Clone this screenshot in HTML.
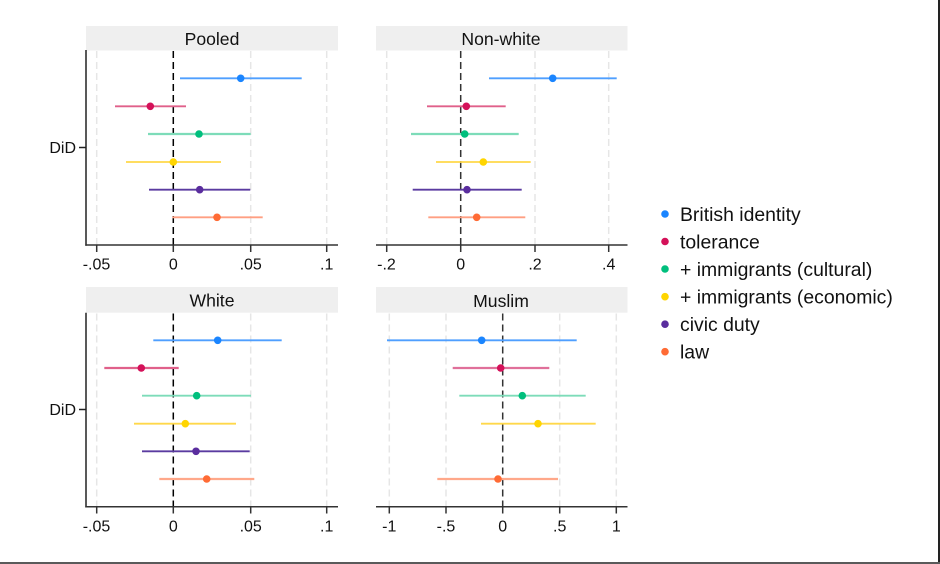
<!DOCTYPE html>
<html>
<head>
<meta charset="utf-8">
<style>
html,body{margin:0;padding:0;background:#fff;}
svg{display:block;}
text{font-family:"Liberation Sans",Arial,sans-serif;fill:#111;}
</style>
</head>
<body>
<svg width="940" height="564" viewBox="0 0 940 564" xmlns="http://www.w3.org/2000/svg">
<rect x="0" y="0" width="940" height="564" fill="#fff"/>

<!-- ================= POOLED ================= -->
<rect x="86" y="26" width="252" height="24.5" fill="#efefef"/>
<text x="212" y="45" font-size="17.6" text-anchor="middle">Pooled</text>
<g stroke="#e6e6e6" stroke-width="1.5" stroke-dasharray="7,4">
<line x1="96.7" y1="51" x2="96.7" y2="245"/>
<line x1="250.7" y1="51" x2="250.7" y2="245"/>
<line x1="326.7" y1="51" x2="326.7" y2="245"/>
</g>
<line x1="173.3" y1="51" x2="173.3" y2="245" stroke="#000" stroke-width="1.5" stroke-dasharray="7,4"/>
<g stroke-width="1.8">
<line x1="180" y1="78.3" x2="301.7" y2="78.3" stroke="#4f9fff"/>
<line x1="115" y1="106.3" x2="186" y2="106.3" stroke="#e0608a"/>
<line x1="148" y1="134" x2="250.7" y2="134" stroke="#7ddcb9" stroke-width="2.2"/>
<line x1="126" y1="162" x2="221" y2="162" stroke="#ffd84a"/>
<line x1="149" y1="189.7" x2="250.3" y2="189.7" stroke="#5a3ba0"/>
<line x1="172.3" y1="217.3" x2="262.7" y2="217.3" stroke="#ff9f82"/>
</g>
<circle cx="240.7" cy="78.3" r="3.8" fill="#1a85ff"/>
<circle cx="150.3" cy="106.3" r="3.8" fill="#d41159"/>
<circle cx="199" cy="134" r="3.8" fill="#00bf7d"/>
<circle cx="173.3" cy="162" r="3.8" fill="#ffd500"/>
<circle cx="199.7" cy="189.7" r="3.8" fill="#5a2d9e"/>
<circle cx="217" cy="217.3" r="3.8" fill="#ff6b35"/>
<line x1="86" y1="50" x2="86" y2="245.8" stroke="#222" stroke-width="1.5"/>
<line x1="79" y1="147.5" x2="86" y2="147.5" stroke="#222" stroke-width="1.5"/>
<text x="76" y="153" font-size="16" text-anchor="end">DiD</text>
<line x1="85.3" y1="245" x2="338" y2="245" stroke="#333" stroke-width="1.5"/>
<g stroke="#333" stroke-width="1.5">
<line x1="96.7" y1="245" x2="96.7" y2="252"/>
<line x1="173.3" y1="245" x2="173.3" y2="252"/>
<line x1="250.7" y1="245" x2="250.7" y2="252"/>
<line x1="326.7" y1="245" x2="326.7" y2="252"/>
</g>
<g font-size="16" text-anchor="middle">
<text x="96.5" y="269.5">-.05</text>
<text x="173.3" y="269.5">0</text>
<text x="250.7" y="269.5">.05</text>
<text x="326.7" y="269.5">.1</text>
</g>

<!-- ================= NON-WHITE ================= -->
<rect x="376" y="26" width="251.5" height="24.5" fill="#efefef"/>
<text x="501" y="45" font-size="17.6" text-anchor="middle">Non-white</text>
<g stroke="#e6e6e6" stroke-width="1.5" stroke-dasharray="7,4">
<line x1="386.7" y1="51" x2="386.7" y2="245"/>
<line x1="535" y1="51" x2="535" y2="245"/>
<line x1="608.7" y1="51" x2="608.7" y2="245"/>
</g>
<line x1="460.7" y1="51" x2="460.7" y2="245" stroke="#333" stroke-width="1.5" stroke-dasharray="7,4"/>
<g stroke-width="1.8">
<line x1="489" y1="78.3" x2="616.7" y2="78.3" stroke="#4f9fff"/>
<line x1="427" y1="106.3" x2="505.7" y2="106.3" stroke="#e0608a"/>
<line x1="411" y1="134" x2="518.7" y2="134" stroke="#7ddcb9" stroke-width="2.2"/>
<line x1="436" y1="162" x2="530.7" y2="162" stroke="#ffd84a"/>
<line x1="412.7" y1="189.7" x2="521.7" y2="189.7" stroke="#5a3ba0"/>
<line x1="428.3" y1="217.3" x2="525.3" y2="217.3" stroke="#ff9f82"/>
</g>
<circle cx="552.7" cy="78.3" r="3.8" fill="#1a85ff"/>
<circle cx="466.3" cy="106.3" r="3.8" fill="#d41159"/>
<circle cx="464.7" cy="134" r="3.8" fill="#00bf7d"/>
<circle cx="483.3" cy="162" r="3.8" fill="#ffd500"/>
<circle cx="467" cy="189.7" r="3.8" fill="#5a2d9e"/>
<circle cx="476.7" cy="217.3" r="3.8" fill="#ff6b35"/>
<line x1="376" y1="245" x2="627.5" y2="245" stroke="#333" stroke-width="1.5"/>
<g stroke="#333" stroke-width="1.5">
<line x1="386.7" y1="245" x2="386.7" y2="252"/>
<line x1="460.7" y1="245" x2="460.7" y2="252"/>
<line x1="535" y1="245" x2="535" y2="252"/>
<line x1="608.7" y1="245" x2="608.7" y2="252"/>
</g>
<g font-size="16" text-anchor="middle">
<text x="386.5" y="269.5">-.2</text>
<text x="460.7" y="269.5">0</text>
<text x="535" y="269.5">.2</text>
<text x="608.7" y="269.5">.4</text>
</g>

<!-- ================= WHITE ================= -->
<rect x="86" y="287" width="252" height="25.7" fill="#efefef"/>
<text x="212" y="306.7" font-size="17.6" text-anchor="middle">White</text>
<g stroke="#e6e6e6" stroke-width="1.5" stroke-dasharray="7,4">
<line x1="96.7" y1="313.5" x2="96.7" y2="506.7"/>
<line x1="250.7" y1="313.5" x2="250.7" y2="506.7"/>
<line x1="326.7" y1="313.5" x2="326.7" y2="506.7"/>
</g>
<line x1="173.3" y1="313.5" x2="173.3" y2="506.7" stroke="#000" stroke-width="1.5" stroke-dasharray="7,4"/>
<g stroke-width="1.8">
<line x1="153.3" y1="340.3" x2="281.7" y2="340.3" stroke="#4f9fff"/>
<line x1="104.3" y1="368" x2="178.7" y2="368" stroke="#e0608a" stroke-width="2.2"/>
<line x1="142" y1="395.7" x2="251" y2="395.7" stroke="#7ddcb9"/>
<line x1="134" y1="423.7" x2="236" y2="423.7" stroke="#ffd84a"/>
<line x1="142" y1="451.3" x2="249.7" y2="451.3" stroke="#5a3ba0"/>
<line x1="159.3" y1="479" x2="254.3" y2="479" stroke="#ffa88a" stroke-width="2.2"/>
</g>
<circle cx="217.7" cy="340.3" r="3.8" fill="#1a85ff"/>
<circle cx="141.3" cy="368" r="3.8" fill="#d41159"/>
<circle cx="196.7" cy="395.7" r="3.8" fill="#00bf7d"/>
<circle cx="185.3" cy="423.7" r="3.8" fill="#ffd500"/>
<circle cx="196" cy="451.3" r="3.8" fill="#5a2d9e"/>
<circle cx="206.7" cy="479" r="3.8" fill="#ff6b35"/>
<line x1="86" y1="312.7" x2="86" y2="507.5" stroke="#222" stroke-width="1.5"/>
<line x1="79" y1="409.5" x2="86" y2="409.5" stroke="#222" stroke-width="1.5"/>
<text x="76" y="415" font-size="16" text-anchor="end">DiD</text>
<line x1="85.3" y1="506.7" x2="338" y2="506.7" stroke="#333" stroke-width="1.5"/>
<g stroke="#333" stroke-width="1.5">
<line x1="96.7" y1="506.7" x2="96.7" y2="513.5"/>
<line x1="173.3" y1="506.7" x2="173.3" y2="513.5"/>
<line x1="250.7" y1="506.7" x2="250.7" y2="513.5"/>
<line x1="326.7" y1="506.7" x2="326.7" y2="513.5"/>
</g>
<g font-size="16" text-anchor="middle">
<text x="96.5" y="531.5">-.05</text>
<text x="173.3" y="531.5">0</text>
<text x="250.7" y="531.5">.05</text>
<text x="326.7" y="531.5">.1</text>
</g>

<!-- ================= MUSLIM ================= -->
<rect x="376" y="287" width="251.5" height="25.7" fill="#efefef"/>
<text x="501" y="307" font-size="17.6" text-anchor="middle">Muslim</text>
<g stroke="#e6e6e6" stroke-width="1.5" stroke-dasharray="7,4">
<line x1="389.3" y1="313.5" x2="389.3" y2="506.7"/>
<line x1="446" y1="313.5" x2="446" y2="506.7"/>
<line x1="559.7" y1="313.5" x2="559.7" y2="506.7"/>
<line x1="616.3" y1="313.5" x2="616.3" y2="506.7"/>
</g>
<line x1="502.7" y1="313.5" x2="502.7" y2="506.7" stroke="#333" stroke-width="1.5" stroke-dasharray="7,4"/>
<g stroke-width="1.8">
<line x1="387" y1="340.3" x2="576.7" y2="340.3" stroke="#4f9fff"/>
<line x1="452.7" y1="368" x2="549.3" y2="368" stroke="#e0709a" stroke-width="2.2"/>
<line x1="459.3" y1="395.7" x2="585.7" y2="395.7" stroke="#7ddcb9"/>
<line x1="481" y1="423.7" x2="595.7" y2="423.7" stroke="#ffd84a"/>
<line x1="437.3" y1="479" x2="558" y2="479" stroke="#ffa88a" stroke-width="2.2"/>
</g>
<circle cx="481.7" cy="340.3" r="3.8" fill="#1a85ff"/>
<circle cx="500.7" cy="368" r="3.8" fill="#d41159"/>
<circle cx="522.3" cy="395.7" r="3.8" fill="#00bf7d"/>
<circle cx="538" cy="423.7" r="3.8" fill="#ffd500"/>
<circle cx="498" cy="479" r="3.8" fill="#ff6b35"/>
<line x1="376" y1="506.7" x2="627.5" y2="506.7" stroke="#333" stroke-width="1.5"/>
<g stroke="#333" stroke-width="1.5">
<line x1="389.3" y1="506.7" x2="389.3" y2="513.5"/>
<line x1="446" y1="506.7" x2="446" y2="513.5"/>
<line x1="502.7" y1="506.7" x2="502.7" y2="513.5"/>
<line x1="559.7" y1="506.7" x2="559.7" y2="513.5"/>
<line x1="616.3" y1="506.7" x2="616.3" y2="513.5"/>
</g>
<g font-size="16" text-anchor="middle">
<text x="389.3" y="531.5">-1</text>
<text x="446" y="531.5">-.5</text>
<text x="502.7" y="531.5">0</text>
<text x="559.7" y="531.5">.5</text>
<text x="616.3" y="531.5">1</text>
</g>

<!-- ================= LEGEND ================= -->
<g font-size="19.4">
<circle cx="665" cy="214" r="3.8" fill="#1a85ff"/>
<text x="680" y="221">British identity</text>
<circle cx="665" cy="241.5" r="3.8" fill="#d41159"/>
<text x="680" y="248.5">tolerance</text>
<circle cx="665" cy="269" r="3.8" fill="#00bf7d"/>
<text x="680" y="276">+ immigrants (cultural)</text>
<circle cx="665" cy="296.7" r="3.8" fill="#ffd500"/>
<text x="680" y="303.7">+ immigrants (economic)</text>
<circle cx="665" cy="324.2" r="3.8" fill="#5a2d9e"/>
<text x="680" y="331.2">civic duty</text>
<circle cx="665" cy="351.7" r="3.8" fill="#ff6b35"/>
<text x="680" y="358.7">law</text>
</g>

<!-- outer borders -->
<rect x="938" y="0" width="2" height="564" fill="#222"/>
<rect x="0" y="562" width="940" height="2" fill="#5a5a5a"/>
</svg>
</body>
</html>
